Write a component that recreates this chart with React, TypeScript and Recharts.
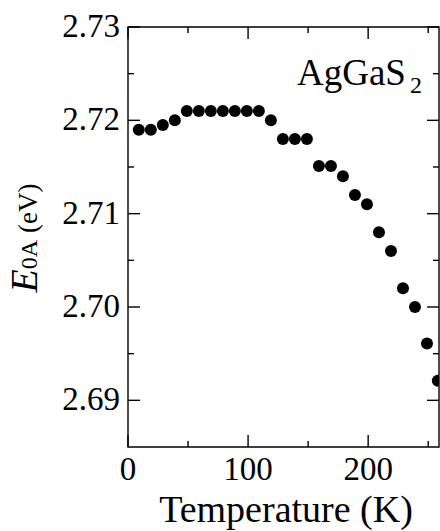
import { ScatterChart, Scatter, XAxis, YAxis, ReferenceArea } from 'recharts';

// temperature (K) and E0A (eV)
const temps = [9, 19, 29, 39, 49, 59, 69, 79, 89, 99, 109, 119, 129, 139, 149, 159, 169, 179, 189, 199, 209, 219, 229, 239, 249, 258];
const energies = [
  2.7190, 2.7190, 2.7195, 2.7200, 2.7210, 2.7210, 2.7210, 2.7210, 2.7210, 2.7210, 2.7210,
  2.7200, 2.7180, 2.7180, 2.7180, 2.7151, 2.7151, 2.7140, 2.7120, 2.7110, 2.7080, 2.7060,
  2.7020, 2.7000, 2.6961, 2.6921,
];

// majors get a label, minors only a short tick
const xTicks = [0, 50, 100, 150, 200, 250];
const yTicks = [2.69, 2.695, 2.70, 2.705, 2.71, 2.715, 2.72, 2.725, 2.73];

const xDomain = [0, 259];
const yDomain = [2.685, 2.73];

const data = temps.map((t, i) => ({ t, e: energies[i] }));

const W = 440, H = 531;
const M = { top: 27, right: 1, bottom: 0, left: 0 };
const X_AXIS_H = 84, Y_AXIS_W = 128;
const PLOT_TOP = M.top, PLOT_BOTTOM = H - M.bottom - X_AXIS_H;
const PLOT_LEFT = M.left + Y_AXIS_W, PLOT_RIGHT = W - M.right;

const FONT = 'Liberation Serif';
const MAJOR = 12, MINOR = 6;
const SW = 1.4;

const isMajorX = (v: number) => v % 100 === 0;
const isMajorY = (v: number) => Math.round(v * 1000) % 10 === 0;

// x tick: label below, inward ticks on bottom and top edges
const XTick = (p: any) => {
  const v = p.payload.value;
  const cx = p.x;
  const len = isMajorX(v) ? MAJOR : MINOR;
  return (
    <g>
      <line x1={cx} x2={cx} y1={PLOT_BOTTOM} y2={PLOT_BOTTOM - len} stroke="#000" strokeWidth={SW} />
      <line x1={cx} x2={cx} y1={PLOT_TOP} y2={PLOT_TOP + len} stroke="#000" strokeWidth={SW} />
      {isMajorX(v) && (
        <text x={cx} y={480} textAnchor="middle" fontFamily={FONT} fontSize={33} fill="#000">{v}</text>
      )}
    </g>
  );
};

// y tick: label left, inward ticks on left and right edges
const YTick = (p: any) => {
  const v = p.payload.value;
  const cy = p.y;
  const len = isMajorY(v) ? MAJOR : MINOR;
  return (
    <g>
      <line x1={PLOT_LEFT} x2={PLOT_LEFT + len} y1={cy} y2={cy} stroke="#000" strokeWidth={SW} />
      <line x1={PLOT_RIGHT} x2={PLOT_RIGHT - len} y1={cy} y2={cy} stroke="#000" strokeWidth={SW} />
      {isMajorY(v) && (
        <text x={PLOT_LEFT - 8} y={cy} dy={10} textAnchor="end" fontFamily={FONT} fontSize={33} fill="#000">
          {v.toFixed(2)}
        </text>
      )}
    </g>
  );
};

const Dot = (p: any) => <circle cx={p.cx} cy={p.cy} r={6} fill="#000" />;

const Compound = () => (
  <g fill="#000">
    <text x={297} y={85} fontSize={37} fontFamily={FONT}>AgGaS</text>
    <text x={410} y={93} fontSize={24} fontFamily={FONT}>2</text>
  </g>
);

const YLabel = () => (
  <text
    x={0} y={0}
    transform="translate(37,238) rotate(-90)"
    textAnchor="middle"
    fontFamily={FONT}
    fill="#000"
  >
    <tspan fontSize={38} fontStyle="italic">E</tspan>
    <tspan fontSize={24}>0A</tspan>
    <tspan fontSize={27}> (eV)</tspan>
  </text>
);

export default function App() {
  return (
    <div style={{ fontFamily: FONT }}>
      <style>{'body{margin:0}'}</style>
      <ScatterChart width={W} height={H} margin={M}>
        <XAxis
          xAxisId="main" dataKey="t" type="number" domain={xDomain} ticks={xTicks}
          allowDataOverflow interval={0} height={X_AXIS_H}
          axisLine={false} tickLine={false} tick={XTick}
        />
        <YAxis
          yAxisId="main" dataKey="e" type="number" domain={yDomain} ticks={yTicks}
          allowDataOverflow interval={0} width={Y_AXIS_W}
          axisLine={false} tickLine={false} tick={YTick}
        />

        <Scatter xAxisId="main" yAxisId="main" data={data} shape={Dot} isAnimationActive={false} />

        {/* plot frame */}
        <ReferenceArea
          xAxisId="main" yAxisId="main"
          x1={xDomain[0]} x2={xDomain[1]} y1={yDomain[0]} y2={yDomain[1]}
          fill="none" stroke="#000" strokeWidth={SW} ifOverflow="visible"
        />

        <Compound />
        <YLabel />
        <text x={286} y={522} textAnchor="middle" fontFamily={FONT} fontSize={38} fill="#000">
          Temperature (K)
        </text>
      </ScatterChart>
    </div>
  );
}
